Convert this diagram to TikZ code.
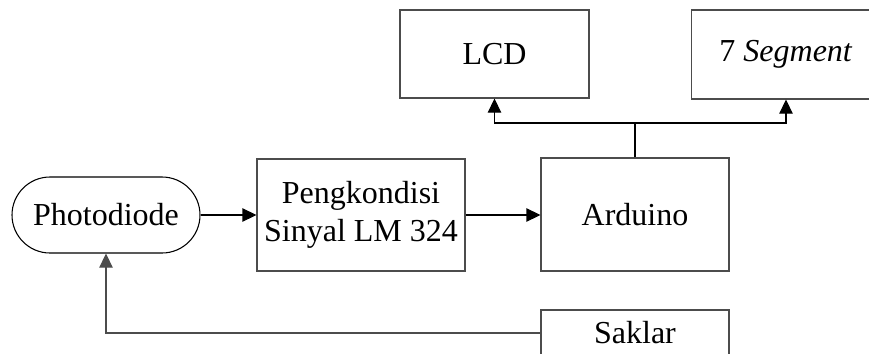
\documentclass[tikz,border=0pt]{standalone}
\usepackage{fontspec}
\setmainfont{Liberation Serif}
\usetikzlibrary{arrows.meta}
\begin{document}
\begin{tikzpicture}[x=0.75pt,y=-0.75pt,
  blk/.style={draw=black!70,line width=0.8pt,inner sep=0pt,font=\fontsize{24}{28.5}\selectfont,align=center},
  conn/.style={draw=black,line width=0.8pt},
  arr/.style={conn,-{Triangle[length=10.5pt,width=10pt]}}]
\useasboundingbox (0,0) rectangle (869,354);
\node[blk,minimum width=141.75pt,minimum height=66pt] (lcd) at (494.5,54) {LCD};
\node[blk,minimum width=141.75pt,minimum height=66.75pt] (seg) at (786,54.5) {7 \textit{Segment}};
\node[blk,draw=black,minimum width=141pt,minimum height=57pt,rounded corners=28.5pt] (pd) at (106,215) {Photodiode};
\node[blk,minimum width=156pt,minimum height=84pt] (pk) at (361,215) {Pengkondisi\\Sinyal LM 324};
\node[blk,minimum width=141pt,minimum height=84.75pt] (ard) at (635,214.5) {Arduino};
\node[blk,minimum width=141pt,minimum height=34.5pt] (sak) at (635,333) {Saklar};
\coordinate (j) at (635,123);
\draw[arr] (pd.east) -- (pk.west);
\draw[arr] (pk.east) -- (pk.east -| ard.west);
\draw[conn] (ard.north) -- (j);
\draw[arr] (j) -| (lcd.south);
\draw[arr] (j) -| (seg.south);
\draw[arr,draw=black!70] (sak.west) -| (pd.south);
\end{tikzpicture}
\end{document}
